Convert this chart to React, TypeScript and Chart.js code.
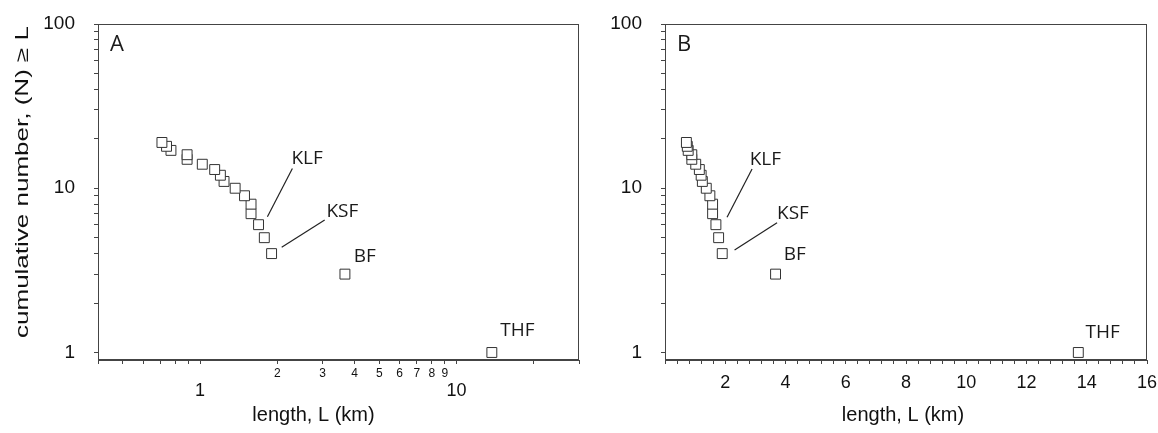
import React, { useEffect, useRef } from 'react';
import { Chart, registerables } from 'chart.js';

Chart.register(...registerables);

// ---------- data ----------
const faultNames = ['KLF', 'KSF', 'BF', 'THF'];
const lengthKm = [13.72, 3.67, 1.9, 1.78, 1.69, 1.58, 1.58, 1.49, 1.37, 1.24, 1.2, 1.14, 1.02, 0.89, 0.89, 0.77, 0.74, 0.71];
const cumulativeN = [1, 3, 4, 5, 6, 7, 8, 9, 10, 11, 12, 13, 14, 15, 16, 17, 18, 19];

// tick values
const yTickValues = [1, 2, 3, 4, 5, 6, 7, 8, 9, 10, 20, 30, 40, 50, 60, 70, 80, 90, 100];
const yTickLabels = [1, 10, 100];
const logXTickValuesA = [0.4, 0.5, 0.6, 0.7, 0.8, 0.9, 1, 2, 3, 4, 5, 6, 7, 8, 9, 10, 20, 30];
const logXMinorLabelsA = [2, 3, 4, 5, 6, 7, 8, 9];
const logXMajorLabelsA = [1, 10];
const linXTickLabelsB = [2, 4, 6, 8, 10, 12, 14, 16];
const linXTickStepB = 0.4;

// label anchors (data coordinates)
const labelXA = [2.27, 3.11, 3.97, 14.8];
const labelYA = [15.1, 7.17, 3.81, 1.35];
const leaderFromXA = [2.29, 3.06];
const leaderFromYA = [13.2, 6.41];
const leaderToXA = [1.83, 2.08];
const leaderToYA = [6.71, 4.37];

const labelXB = [2.81, 3.72, 3.94, 13.96];
const labelYB = [14.9, 7.04, 3.92, 1.32];
const leaderFromXB = [2.89, 3.72];
const leaderFromYB = [13.1, 6.17];
const leaderToXB = [2.06, 2.31];
const leaderToYB = [6.66, 4.2];

// ---------- styling ----------
const TICK_FONT = "'Liberation Sans', Arial, sans-serif";
const LABEL_FONT = "'Open Sans', 'Noto Sans', sans-serif";
const AXIS_COLOR = '#444';
const TEXT_COLOR = '#111';

type PanelCfg = {
  letter: string;
  labelX: number[];
  labelY: number[];
  fromX: number[];
  fromY: number[];
  toX: number[];
  toY: number[];
  titleOffset: number;
  yTitle: boolean;
};

const makePlugin = (cfg: PanelCfg) => ({
  id: 'panelDecor' + cfg.letter,
  afterDraw(chart: any) {
    const { ctx, chartArea } = chart;
    const { left, top, right, bottom } = chartArea;
    const xs = chart.scales.x;
    const ys = chart.scales.y;
    ctx.save();
    // frame
    ctx.strokeStyle = AXIS_COLOR;
    ctx.lineWidth = 1;
    ctx.strokeRect(Math.round(left) + 0.5, Math.round(top) + 0.5, Math.round(right - left) - 1, Math.round(bottom - top) - 1);

    // panel letter
    ctx.fillStyle = '#1a1a1a';
    ctx.font = `22px ${LABEL_FONT}`;
    ctx.textAlign = 'left';
    ctx.textBaseline = 'middle';
    ctx.fillText(cfg.letter, left + 12, top + 21);

    // fault labels
    ctx.font = `19px ${LABEL_FONT}`;
    faultNames.forEach((name, i) => {
      ctx.fillText(name, xs.getPixelForValue(cfg.labelX[i]), ys.getPixelForValue(cfg.labelY[i]));
    });

    // leader lines
    ctx.strokeStyle = '#222';
    ctx.lineWidth = 1.2;
    cfg.fromX.forEach((fx, i) => {
      ctx.beginPath();
      ctx.moveTo(xs.getPixelForValue(fx), ys.getPixelForValue(cfg.fromY[i]));
      ctx.lineTo(xs.getPixelForValue(cfg.toX[i]), ys.getPixelForValue(cfg.toY[i]));
      ctx.stroke();
    });

    // x-axis title
    ctx.fillStyle = TEXT_COLOR;
    ctx.font = `20px ${TICK_FONT}`;
    ctx.textAlign = 'center';
    ctx.textBaseline = 'middle';
    ctx.fillText('length, L (km)', (left + right) / 2 + cfg.titleOffset, 415);

    // y-axis title (stretched along its length)
    if (cfg.yTitle) {
      const txt = 'cumulative number, (N) \u2265 L';
      ctx.font = `18px ${TICK_FONT}`;
      const w = ctx.measureText(txt).width;
      const sx = 312 / w;
      ctx.translate(23, 182);
      ctx.rotate(-Math.PI / 2);
      ctx.scale(sx, 1);
      ctx.fillText(txt, 0, 0);
    }
    ctx.restore();
  },
});

const points = () => lengthKm.map((x, i) => ({ x, y: cumulativeN[i] }));

const dataset = () => ({
  data: points(),
  pointStyle: 'rect',
  pointRadius: 7,
  pointHoverRadius: 7,
  borderColor: '#333',
  borderWidth: 1,
  backgroundColor: '#ffffff',
  showLine: false,
});

const yScale = (width: number) => ({
  type: 'logarithmic',
  min: 0.9,
  max: 100,
  afterBuildTicks: (s: any) => {
    s.ticks = yTickValues.map((v) => ({ value: v }));
  },
  afterFit: (s: any) => {
    s.width = width;
    s.paddingTop = 0;
    s.paddingBottom = 0;
  },
  ticks: {
    autoSkip: false,
    padding: 19,
    color: TEXT_COLOR,
    font: { family: TICK_FONT, size: 19 },
    callback: (v: any) => (yTickLabels.includes(v) ? String(v) : ''),
  },
  grid: { drawOnChartArea: false, tickLength: 4, color: AXIS_COLOR },
  border: { color: AXIS_COLOR },
});

function buildConfigA(): any {
  return {
    type: 'scatter',
    data: { datasets: [dataset()] },
    options: {
      animation: false,
      responsive: false,
      maintainAspectRatio: false,
      devicePixelRatio: 1,
      layout: { autoPadding: false, padding: { top: 24, right: 21, left: 0, bottom: 0 } },
      plugins: { legend: { display: false }, tooltip: { enabled: false } },
      events: [],
      scales: {
        x: {
          type: 'logarithmic',
          min: 0.4,
          max: 30,
          position: 'bottom',
          weight: 0,
          afterBuildTicks: (s: any) => {
            s.ticks = logXTickValuesA.map((v) => ({ value: v }));
          },
          afterFit: (s: any) => {
            s.height = 20;
            s.paddingLeft = 0;
            s.paddingRight = 0;
          },
          ticks: {
            autoSkip: false,
            maxRotation: 0,
            minRotation: 0,
            padding: 2,
            color: TEXT_COLOR,
            font: { family: TICK_FONT, size: 12 },
            callback: (v: any) => (logXMinorLabelsA.includes(v) ? String(v) : ''),
          },
          grid: { drawOnChartArea: false, tickLength: 4, color: AXIS_COLOR },
          border: { color: AXIS_COLOR },
        },
        x2: {
          type: 'logarithmic',
          min: 0.4,
          max: 30,
          position: 'bottom',
          weight: 1,
          afterBuildTicks: (s: any) => {
            s.ticks = logXMajorLabelsA.map((v) => ({ value: v }));
          },
          afterFit: (s: any) => {
            s.height = 53;
            s.paddingLeft = 0;
            s.paddingRight = 0;
          },
          ticks: {
            autoSkip: false,
            maxRotation: 0,
            minRotation: 0,
            padding: 0,
            color: TEXT_COLOR,
            font: { family: TICK_FONT, size: 18 },
            callback: (v: any) => String(v),
          },
          grid: { display: false, drawTicks: false },
          border: { display: false },
        },
        y: yScale(98),
      },
    },
    plugins: [
      makePlugin({
        letter: 'A',
        labelX: labelXA,
        labelY: labelYA,
        fromX: leaderFromXA,
        fromY: leaderFromYA,
        toX: leaderToXA,
        toY: leaderToYA,
        titleOffset: -25,
        yTitle: true,
      }),
    ],
  };
}

function buildConfigB(): any {
  const nSteps = Math.round(16 / linXTickStepB);
  const linTicks = Array.from({ length: nSteps + 1 }, (_, i) => +(i * linXTickStepB).toFixed(1));
  return {
    type: 'scatter',
    data: { datasets: [dataset()] },
    options: {
      animation: false,
      responsive: false,
      maintainAspectRatio: false,
      devicePixelRatio: 1,
      layout: { autoPadding: false, padding: { top: 24, right: 11, left: 0, bottom: 0 } },
      plugins: { legend: { display: false }, tooltip: { enabled: false } },
      events: [],
      scales: {
        x: {
          type: 'linear',
          min: 0,
          max: 16,
          position: 'bottom',
          afterBuildTicks: (s: any) => {
            s.ticks = linTicks.map((v) => ({ value: v }));
          },
          afterFit: (s: any) => {
            s.height = 73;
            s.paddingLeft = 0;
            s.paddingRight = 0;
          },
          ticks: {
            autoSkip: false,
            maxRotation: 0,
            minRotation: 0,
            padding: 8,
            color: TEXT_COLOR,
            font: { family: TICK_FONT, size: 18 },
            callback: (v: any) => {
              const hit = linXTickLabelsB.find((t) => Math.abs(t - v) < 1e-6);
              return hit !== undefined ? String(hit) : '';
            },
          },
          grid: { drawOnChartArea: false, tickLength: 4, color: AXIS_COLOR },
          border: { color: AXIS_COLOR },
        },
        y: yScale(65),
      },
    },
    plugins: [
      makePlugin({
        letter: 'B',
        labelX: labelXB,
        labelY: labelYB,
        fromX: leaderFromXB,
        fromY: leaderFromYB,
        toX: leaderToXB,
        toY: leaderToYB,
        titleOffset: -3,
        yTitle: false,
      }),
    ],
  };
}

function Panel({ build, left, width }: { build: () => any; left: number; width: number }) {
  const ref = useRef<HTMLCanvasElement | null>(null);
  useEffect(() => {
    if (!ref.current) return;
    const chart = new Chart(ref.current, build());
    return () => chart.destroy();
  }, [build]);
  return (
    <canvas
      ref={ref}
      width={width}
      height={433}
      style={{ position: 'absolute', left, top: 0, width, height: 433 }}
    />
  );
}

export default function App() {
  return (
    <div style={{ position: 'absolute', left: 0, top: 0, width: 1158, height: 433, background: '#fff' }}>
      <Panel build={buildConfigA} left={0} width={600} />
      <Panel build={buildConfigB} left={600} width={558} />
    </div>
  );
}
